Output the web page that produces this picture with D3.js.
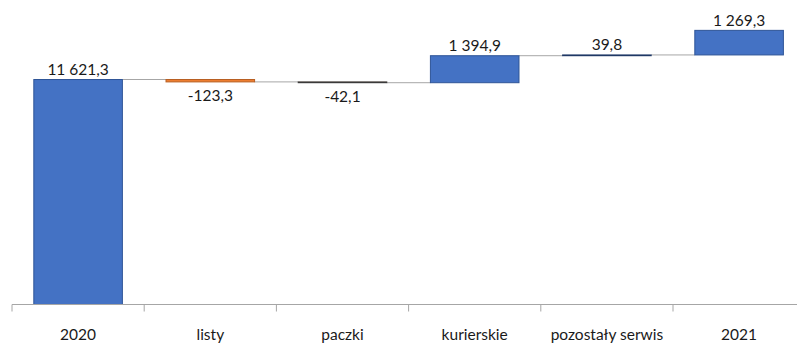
<!DOCTYPE html>
<html>
<head>
<meta charset="utf-8">
<script src="https://cdn.jsdelivr.net/npm/d3@7"></script>
<style>
  html, body { margin: 0; padding: 0; background: #ffffff; }
  svg { display: block; }
  text { font-family: Lato, "Open Sans", sans-serif; fill: #1a1a1a; }
</style>
</head>
<body>
<svg id="chart" width="797" height="343"></svg>
<script>
// Waterfall: 2020 total, changes by segment, then 2021 change
const categories = ["2020", "listy", "paczki", "kurierskie", "pozostały serwis", "2021"];
const values = [11621.3, -123.3, -42.1, 1394.9, 39.8, 1269.3];
const fills = ["#4472C4", "#ED7D31", "#ED7D31", "#4472C4", "#4472C4", "#4472C4"];
const strokes = ["#2F5597", "#B85F22", "#3A3A3A", "#2F5597", "#1F3864", "#2F5597"];

const pl = d3.formatLocale({
  decimal: ",", thousands: " ", grouping: [3], currency: ["", " zł"], minus: "-"
});
const fmt = pl.format(",.1f");

// running start / end of each step
let acc = 0;
const steps = categories.map((c, i) => {
  const start = acc;
  const end = acc + values[i];
  acc = end;
  return { cat: c, value: values[i], start, end, fill: fills[i], stroke: strokes[i] };
});

const svg = d3.select("#chart");
const x = d3.scaleBand().domain(categories).range([12, 805.2])
  .paddingInner(0.33).paddingOuter(0.165);
const y = d3.scaleLinear().domain([0, 15000]).range([304.5, 14.1]);

// connectors between consecutive bars
svg.append("g").selectAll("line").data(steps.slice(0, -1)).join("line")
  .attr("x1", d => x(d.cat) + x.bandwidth())
  .attr("x2", (d, i) => x(steps[i + 1].cat))
  .attr("y1", d => y(d.end))
  .attr("y2", d => y(d.end))
  .attr("stroke", "#a6a6a6")
  .attr("stroke-width", 1);

// bars
svg.append("g").selectAll("rect").data(steps).join("rect")
  .attr("x", d => x(d.cat))
  .attr("width", x.bandwidth())
  .attr("y", d => y(Math.max(d.start, d.end)))
  .attr("height", d => Math.max(0.01, Math.abs(y(d.start) - y(d.end))))
  .attr("fill", d => d.fill)
  .attr("stroke", d => d.stroke)
  .attr("stroke-width", 1);

// value labels
svg.append("g").selectAll("text").data(steps).join("text")
  .attr("x", d => x(d.cat) + x.bandwidth() / 2)
  .attr("y", d => d.value >= 0 ? y(d.end) - 4.5 : y(d.end) + 19)
  .attr("text-anchor", "middle")
  .attr("font-size", "15.5px")
  .text(d => fmt(d.value));

// category axis
const axis = svg.append("g").attr("transform", "translate(0,304.5)")
  .call(d3.axisBottom(x).tickSize(0).tickPadding(0));
axis.select(".domain").remove();
axis.selectAll(".tick text")
  .attr("y", 35.5)
  .attr("dy", null)
  .attr("font-size", "15.5px")
  .attr("font-family", "Lato, 'Open Sans', sans-serif")
  .attr("fill", "#1a1a1a");

axis.append("line")
  .attr("x1", 12).attr("x2", 797).attr("y1", 0).attr("y2", 0)
  .attr("stroke", "#a6a6a6").attr("stroke-width", 1);

const bounds = d3.range(categories.length + 1).map(i => 12 + i * x.step());
axis.append("g").selectAll("line").data(bounds).join("line")
  .attr("x1", d => d).attr("x2", d => d)
  .attr("y1", 0).attr("y2", 7)
  .attr("stroke", "#a6a6a6").attr("stroke-width", 1);
</script>
</body>
</html>
